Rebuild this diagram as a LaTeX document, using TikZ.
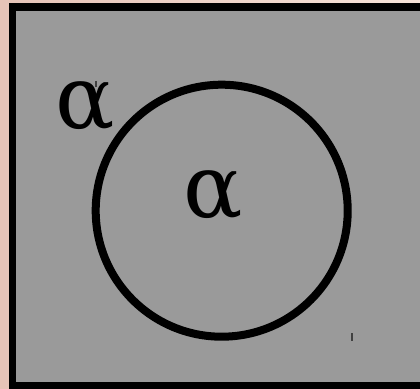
\documentclass[tikz,border=0pt]{standalone}
\usepackage{fontspec}
\setmainfont{Liberation Serif}
\newfontfamily\symfont{DejaVu Serif}
\usepackage{tikz}
\definecolor{skinlight}{HTML}{F8E6DC}
\definecolor{skindark}{HTML}{E4C0B4}
\definecolor{boxgrey}{HTML}{9A9A9A}
\definecolor{tickgrey}{HTML}{404040}

\begin{document}
\begin{tikzpicture}[x=0.75pt, y=-0.75pt,
  frame/.style={draw=black, fill=boxgrey, line width=5.6pt},
  ring/.style={draw=black, line width=6pt},
  sym/.style={inner sep=0pt, font=\symfont\fontsize{66}{66}\selectfont},
  tick/.style={draw=tickgrey, line width=1.1pt}]
\useasboundingbox (0,0) rectangle (420,388);
\clip (0,0) rectangle (420,388);
% backdrop
\shade[shading=axis, shading angle=225, left color=skindark, right color=skinlight] (-40,-40) rectangle (460,428);
\draw[frame] (12.5,7.2) rectangle (430,385.5);
\coordinate (c) at (221.7,210.7);
\draw[ring] (c) circle[radius=126*0.75pt];
\node[sym] (inA) at (213,195) {α};
\node[sym] (outA) at (85,107) {α};
% stray marks
\draw[tick] (96,81) -- (96,87);
\draw[tick] (352,333) -- (352,341);
\end{tikzpicture}
\end{document}
